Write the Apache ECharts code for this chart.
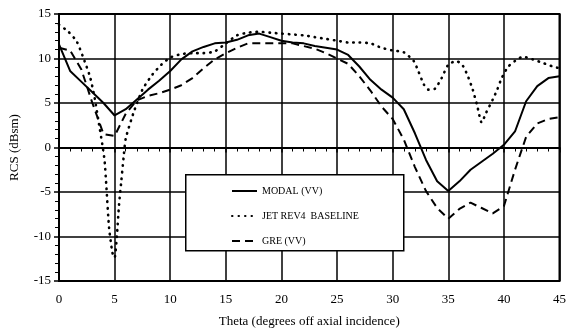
<!DOCTYPE html>
<html>
<head>
<meta charset="utf-8">
<script src="https://cdn.jsdelivr.net/npm/echarts@6/dist/echarts.min.js"></script>
<style>html,body{margin:0;padding:0;background:#fff}#c{width:569px;height:333px}</style>
</head>
<body>
<div id="c"></div>
<script>
var seriesNames = ['MODAL (VV)', 'JET REV4  BASELINE', 'GRE (VV)'];
var xTicks = [0, 5, 10, 15, 20, 25, 30, 35, 40, 45];
var yTicks = [-15, -10, -5, 0, 5, 10, 15];

var modalTheta = [0,1,2,3,4,5,6,7,8,9,10,11,12,13,14,15,16,17,18,19,20,21,22,23,24,25,26,27,28,29,30,31,32,33,34,35,36,37,38,39,40,41,42,43,44,45];
var modalRcs = [11.6,8.6,7.4,6.2,5.0,3.6,4.3,5.4,6.5,7.5,8.6,9.9,10.8,11.3,11.7,11.8,12.1,12.6,12.8,12.4,12.0,11.8,11.7,11.4,11.2,11.0,10.4,9.1,7.6,6.5,5.6,4.3,1.6,-1.4,-3.8,-4.9,-3.8,-2.5,-1.6,-0.7,0.3,1.8,5.2,6.9,7.8,8.0];

var jetTheta = [0,0.85,1.6,2.3,2.8,3.2,3.6,3.9,4.1,4.25,4.5,4.8,5.0,5.2,5.4,5.6,5.8,6.0,6.7,7.5,8.4,9.2,10,11,12,13,14,15,16,17,18,19,20,21,22,23,24,25,26,27,28,29,30,31,31.9,32.3,32.8,33.2,33.8,34.4,35,35.7,36.2,36.7,37.2,37.6,38,38.4,39,39.4,39.8,40.4,41.2,41.7,42.6,43.5,44.4,45];
var jetRcs = [13.8,13.0,11.9,9.7,7.9,5.6,2.6,0.3,-1.5,-4.2,-9.0,-11.8,-12.4,-10.0,-6.4,-3.8,-1.2,1.0,3.9,6.5,8.2,9.3,10.1,10.5,10.6,10.6,10.8,11.7,12.6,12.9,13.0,12.9,12.8,12.7,12.6,12.4,12.2,12.0,11.8,11.8,11.7,11.2,10.9,10.7,9.7,8.6,7.1,6.5,6.6,7.8,9.3,9.7,9.4,8.2,6.5,4.7,2.8,3.9,5.4,6.5,7.8,9.1,9.9,10.2,9.9,9.5,9.1,8.9];

var greTheta = [0,1,2,3,4,5,6,7,8,9,10,11,12,13,14,15,16,17,18,19,20,21,22,23,24,25,26,27,28,29,30,31,32,33,34,35,36,37,38,39,40,41,42,43,44,45];
var greRcs = [11.2,10.9,8.8,5.0,1.5,1.3,3.8,5.3,5.8,6.1,6.5,7.0,7.8,8.9,9.9,10.6,11.2,11.7,11.7,11.7,11.7,11.7,11.4,11.1,10.6,10.0,9.4,8.0,6.4,4.6,3.2,0.9,-2.2,-4.9,-6.8,-8.0,-6.9,-6.2,-6.8,-7.4,-6.6,-2.5,1.2,2.7,3.2,3.4];

function pairs(xs, ys) { return xs.map(function (x, i) { return [x, ys[i]]; }); }

var serif = '"Liberation Serif", "DejaVu Serif", serif';
var chart = echarts.init(document.getElementById('c'), null, {renderer: 'canvas'});
chart.setOption({
  animation: false,
  backgroundColor: '#fff',
  color: ['#000', '#000', '#000'],
  grid: {left: 57, right: 2, top: 14, bottom: 48, show: true, borderColor: '#000', borderWidth: 2},
  xAxis: {
    type: 'value', min: xTicks[0], max: xTicks[xTicks.length - 1], interval: 5,
    name: 'Theta (degrees off axial incidence)', nameLocation: 'middle', nameGap: 34,
    nameTextStyle: {fontFamily: serif, fontSize: 13, color: '#000'},
    axisLine: {show: true, lineStyle: {color: '#000', width: 2}},
    axisTick: {show: true, inside: false, length: 5, lineStyle: {color: '#000', width: 1.5}},
    minorTick: {show: true, splitNumber: 5, length: 4, lineStyle: {color: '#000', width: 1}},
    splitLine: {show: true, lineStyle: {color: '#000', width: 1.5}},
    axisLabel: {fontFamily: serif, fontSize: 13, color: '#000', margin: 12}
  },
  yAxis: {
    type: 'value', min: yTicks[0], max: yTicks[yTicks.length - 1], interval: 5,
    name: 'RCS (dBsm)', nameLocation: 'middle', nameGap: 38,
    nameTextStyle: {fontFamily: serif, fontSize: 13, color: '#000'},
    axisLine: {show: true, lineStyle: {color: '#000', width: 2}},
    axisTick: {show: true, inside: false, length: 5, lineStyle: {color: '#000', width: 1.5}},
    minorTick: {show: true, splitNumber: 5, length: 4, lineStyle: {color: '#000', width: 1}},
    splitLine: {show: true, lineStyle: {color: '#000', width: 1.5}},
    axisLabel: {fontFamily: serif, fontSize: 13, color: '#000', margin: 8}
  },
  graphic: [{
    type: 'rect', z: 50, left: 185, top: 174,
    shape: {width: 218, height: 76},
    style: {fill: '#fff', stroke: '#000', lineWidth: 1.5}
  }],
  legend: {
    z: 60, left: 226, top: 181, orient: 'vertical', itemGap: 15,
    itemWidth: 25, itemHeight: 10,
    itemStyle: {opacity: 0},
    textStyle: {fontFamily: serif, fontSize: 10, color: '#000'},
    data: seriesNames
  },
  series: [
    {name: seriesNames[0], type: 'line', data: pairs(modalTheta, modalRcs), symbol: 'none',
     itemStyle: {color: '#000'},
     lineStyle: {color: '#000', width: 2, type: 'solid'}, z: 5},
    {name: seriesNames[1], type: 'line', data: pairs(jetTheta, jetRcs), symbol: 'none', smooth: 0.2,
     itemStyle: {color: '#000'},
     lineStyle: {color: '#000', width: 2.6, type: [0.5, 6], cap: 'round'}, z: 5},
    {name: seriesNames[2], type: 'line', data: pairs(greTheta, greRcs), symbol: 'none',
     itemStyle: {color: '#000'},
     lineStyle: {color: '#000', width: 2, type: [8, 5]}, z: 5}
  ]
});
</script>
</body>
</html>
